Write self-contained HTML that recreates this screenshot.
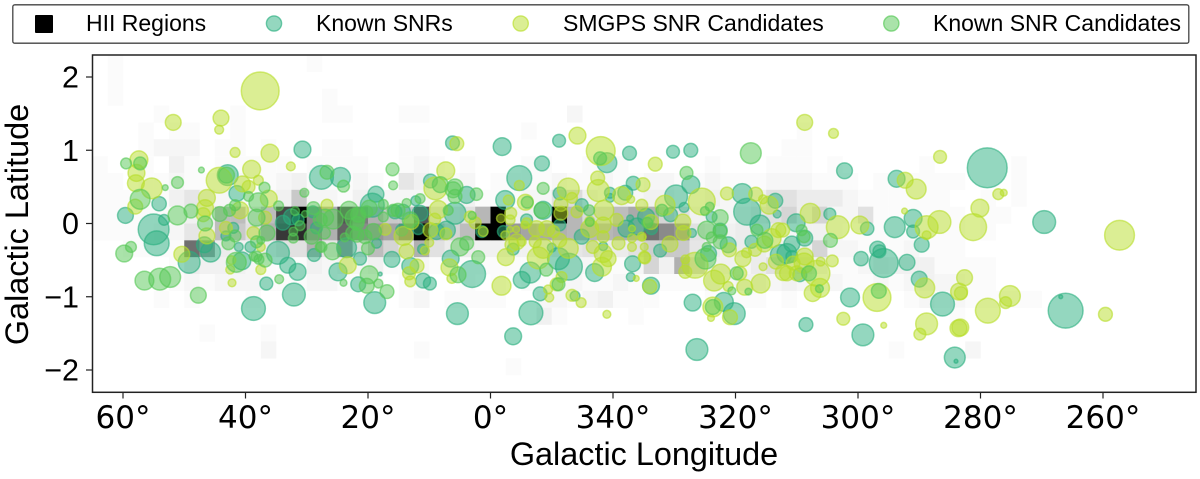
<!DOCTYPE html>
<html lang="en">
<head>
<meta charset="utf-8">
<title>Galactic distribution of SNRs and HII regions</title>
<style>
html,body{margin:0;padding:0;background:#fff;width:1200px;height:479px;overflow:hidden}
svg{display:block}
text{fill:#000}
.sans{font-family:"Liberation Sans",sans-serif}
.dejavu{font-family:"DejaVu Sans",sans-serif}
</style>
</head>
<body>
<svg id="chart" xmlns="http://www.w3.org/2000/svg" width="1200" height="479" viewBox="0 0 1200 479">
  <defs><clipPath id="plot-clip"><rect x="92.5" y="55" width="1103.5" height="337.3"/></clipPath></defs>
  <g>
    <rect x="12.8" y="4.8" width="1176" height="38.4" rx="2" fill="#fff" stroke="#444" stroke-width="1.3"/>
    <g>
      <rect x="35" y="15" width="18" height="18" rx="1" fill="#000"/>
      <text class="sans" x="86" y="31" font-size="23">HII Regions</text>
    </g>
    <g>
      <circle cx="274" cy="23.5" r="7.6" fill="#29af7f" fill-opacity=".5" stroke="#29af7f" stroke-opacity=".65" stroke-width="1.4"/>
      <text class="sans" x="316" y="31" font-size="23">Known SNRs</text>
    </g>
    <g>
      <circle cx="520.7" cy="23.5" r="7.6" fill="#b8de29" fill-opacity=".5" stroke="#b8de29" stroke-opacity=".65" stroke-width="1.4"/>
      <text class="sans" x="563" y="31" font-size="23">SMGPS SNR Candidates</text>
    </g>
    <g>
      <circle cx="891.3" cy="23.5" r="7.6" fill="#55c855" fill-opacity=".5" stroke="#55c855" stroke-opacity=".65" stroke-width="1.4"/>
      <text class="sans" x="933" y="31" font-size="23">Known SNR Candidates</text>
    </g>
  </g>
  <g id="heatmap" clip-path="url(#plot-clip)"></g>
  <g id="marks" clip-path="url(#plot-clip)"></g>
  <rect x="92.5" y="55" width="1103.5" height="337.3" fill="none" stroke="#222" stroke-width="1.5"/>
  <g id="axes"></g>
  <text class="sans" x="644" y="465" font-size="32.4" text-anchor="middle">Galactic Longitude</text>
  <text class="sans" transform="translate(28,224.5) rotate(-90)" font-size="32.4" text-anchor="middle">Galactic Latitude</text>
</svg>
<script>
// Longitudes are signed degrees (negative = 360 - |l|). Entries are [longitude, latitude, apparent size].
const xTickValues = [60, 40, 20, 0, -20, -40, -60, -80, -100];
const xTickLabels = ['60°', '40°', '20°', '0°', '340°', '320°', '300°', '280°', '260°'];
const yTickValues = [2, 1, 0, -1, -2];
const yTickLabels = ['2', '1', '0', '\u22121', '\u22122'];

// HII-region counts per cell: outer index = latitude bin from the top, inner index = longitude bin from the left.
const hiiLonStart = 65;
const hiiLonStep = 2.5;
const hiiLatStart = 2.3;
const hiiLatStep = 0.23;
const hiiCounts = [
[0,1,0,0,0,0,0,0,0,0,0,0,0,0,1],
[0,1],
[0,1,0,0,0,0,0,0,0,0,0,0,0,0,0,1],
[0,0,0,0,1,0,0,0,0,1,0,0,0,0,0,1,1,0,0,0,1,1,0,0,0,0,0,0,0,0,0,2],
[0,0,0,1,0,1,1,0,0,1,0,0,0,0,0,0,0,0,0,0,0,0,0,0,0,0,0,0,1,0,0,0,0,0,0,0,0,0,0,0,0,0,0,0,0,0,1],
[0,0,0,1,2,2,2,0,1,1,0,1,0,0,0,1,1,0,0,0,1,1,0,0,0,0,0,0,0,0,0,0,0,0,0,0,0,0,0,0,0,0,0,0,0,1,1],
[1,0,0,1,0,3,1,0,1,1,1,1,1,0,1,1,1,1,0,0,1,2,1,0,1,0,0,0,1,1,0,0,1,1,1,0,0,0,0,0,1,0,0,0,1,1,1,0,1,0,0,0,0,0,1,0,0,0,0,0,1],
[1,1,0,1,1,2,1,1,1,2,1,1,2,3,1,1,1,2,1,0,5,3,1,1,2,0,1,1,1,1,2,1,1,2,1,1,2,2,1,1,2,1,1,1,2,2,2,1,1,1,0,1,1,1,1,1,1,0,0,0,1],
[1,1,1,1,1,3,5,3,2,1,1,2,3,10,2,2,1,3,1,2,2,2,2,2,3,1,1,1,2,2,6,7,3,2,3,2,3,3,2,2,3,2,2,3,6,6,4,4,4,2,1,1,1,1,1,1,0,0,1,0,1],
[1,1,1,1,1,1,3,3,12,12,5,12,30,40,20,14,28,22,14,10,10,28,6,5,6,13,40,3,3,3,40,13,7,7,12,15,14,8,6,3,2,2,3,5,6,8,4,8,2,2,6,1,1,1,1,1,1,0,1,1],
[1,1,1,1,2,2,5,3,12,10,6,14,32,34,20,14,26,20,18,16,22,40,12,8,12,40,40,18,16,15,14,13,13,13,14,15,24,20,18,6,5,3,4,3,3,2,3,3,2,1,1,1,1,1,1,1,1,0,1],
[0,0,1,1,1,1,24,18,4,3,3,4,6,6,14,5,18,6,12,8,5,14,6,4,4,3,3,3,3,4,5,5,6,4,4,6,9,10,10,5,4,3,4,4,3,3,3,8,2,2,1,1,1,2,1,1,1],
[0,0,0,0,0,1,4,3,3,3,2,1,1,1,3,2,3,2,3,1,1,2,1,1,1,1,1,1,1,2,2,2,2,1,1,2,8,3,14,8,3,3,2,4,6,4,5,3,1,1,2,4,3,3,3,1,1,1,1],
[0,0,0,0,0,1,2,1,2,2,2,1,1,1,2,2,1,1,1,0,1,1,0,0,1,0,1,0,1,1,2,2,1,1,2,1,1,1,1,1,3,2,3,3,2,3,2,1,2,1,1,2,1,2,3,2,2,1,1],
[0,0,0,0,1,0,1,0,0,0,1,0,0,0,0,0,0,0,0,0,1,2,0,1,1,1,1,0,0,2,2,1,2,3,1,1,1,0,0,0,1,1,1,1,0,1,0,0,0,0,0,0,0,1,2,1,2,1,1,1,1,1],
[0,0,0,0,0,0,0,0,0,0,0,0,0,0,0,0,0,0,0,0,0,0,0,0,0,0,0,0,0,3,1,0,0,0,0,1,0,0,0,0,0,0,0,0,0,0,0,0,0,0,0,0,0,0,0,0,1],
[0,0,0,0,0,0,0,1,0,0,0,1],
[0,0,0,0,0,0,0,0,0,0,0,2,0,0,0,0,0,0,0,0,0,1,0,0,0,0,0,0,0,0,0,0,0,0,0,0,0,0,0,0,0,0,0,0,0,0,0,0,0,0,0,0,1,0,0,0,0,2],
[0,0,0,0,0,0,0,0,0,0,0,0,0,0,0,0,0,0,0,0,0,0,0,0,0,0,0,1],
[]
];
const hiiMaxCount = 40;

const knownSnrs = [
[59.6,.11,14],[54.1,.27,12.5],[55,-.08,29],[54.5,-.27,23],[53.3,.05,9],[49.2,-.53,20],[45.7,-.39,18],[46.7,-.29,14],[41.4,.41,14],[42.9,.66,19],
[30.7,1.01,15],[27.6,.63,22],[24.5,.63,18],[19.3,.25,22],[18.7,.4,14],[41.1,-.32,7],[39.2,-.32,9],[40.6,-.51,16],[34.7,-.4,21],[33.1,-.57,14],
[31.5,-.66,15],[36.6,-.82,11],[32.1,-.97,21],[38.7,-1.16,22],[24.9,-.66,16],[18.9,-1.08,20],[21.6,-.83,13],[16.1,-.49,14],[23.5,-.33,18],[21.3,-.48,11],
[18.6,-.27,8],[28.8,-.43,11],[32.5,.09,14],[33.9,.01,13],[31.4,.05,10],[29,.16,10],[28.4,-.06,10],[42,-.06,9],[43.2,-.17,8],[14.3,.16,13],
[15.6,.16,12],[12.2,.31,8],[9.8,.58,12],[3.9,.39,15],[5.8,.14,20],[8.8,-.11,14],[7.2,-.09,16],[11.8,-.07,10],[14.5,-.09,10],[13.1,-.58,15],
[11,-.78,13],[9.9,-.82,11],[3,-.69,25],[6.5,-.48,15],[18,-.69,2],[11.1,-.35,8],[1.4,-.11,10],[11.5,.14,14],[6.2,1.1,12],[-1.9,1.05,16],
[-11.2,1.13,11],[-8.4,.82,13],[-4.7,.62,23],[-2.4,.32,17],[-19,.83,18],[-22.7,.96,12],[-29.8,.98,11],[-32.7,1,12],[-23.3,.55,12],[-22,.42,13],
[-19.5,.42,9],[-19.5,.35,7],[-11.3,.41,11],[-14.9,.25,11],[-8.6,.18,16],[-5.9,.05,10],[-2.1,-.11,10],[-11.3,-.02,10],[-14.9,-.18,13],[-23.9,-.04,15],
[-22.2,-.07,15],[-22.8,.07,5],[-3.7,-.35,10],[-12.8,-.59,25],[-11.1,-.48,20],[-6.5,-.67,19],[-5.1,-.77,15],[-17,-.67,16],[-23.2,-.55,14],[-22.9,-.73,7],
[-10,-.33,7],[-18.4,-.31,7],[-25.4,.09,15],[5.4,-1.23,20],[-6.6,-1.22,22],[-3.7,-1.54,15],[-33.7,-1.72,20],[-33,-1.08,15],[-38.1,-1.07,17],[-39.8,-1.23,20],
[-26.2,-.85,15],[-8.1,-.96,12],[-13.8,-.99,8],[-27.7,-.37,11],[-30.3,.37,21],[-32.7,.53,16],[-31.6,.22,8],[-29.4,.12,12],[-26.3,-.07,10],[-32.9,-.13,7],
[-41.1,.41,18],[-41.9,.16,25],[-46.5,.31,13],[-46.8,.13,6],[-44,-.02,18],[-42.6,-.25,11],[-49.9,.01,16],[-47.4,-.43,19],[-49.2,-.28,14],[-49.2,-.45,10],
[-48.4,-.41,18],[-36.1,.09,9],[-37.5,-.09,12],[-35.6,-.41,14],[-38.8,-.29,14],[-51.3,-.2,14],[-50.5,-.7,12],[-55.4,.13,10],[-61.5,-.07,11.5],[-66,-.05,19],
[-69,.07,16],[-69,-.11,11],[-70.4,-.29,13],[-63.2,-.35,14],[-63.5,-.38,11],[-64.2,-.54,27],[-68,-.53,14],[-60.5,-.48,12.5],[-70,-.76,14],[-58.7,-1.01,17],
[-73.8,-1.1,22],[-90.4,.02,21],[-93.9,-1.19,33],[-60.8,-1.52,20],[-51.5,-1.38,12],[-75.8,-1.83,19],[-76,-1.88,2],[-93.1,-1,2],[-81.1,.76,38],[-57.8,.72,14],
[-66.3,.61,15]
];

const smgpsCandidates = [
[37.6,1.81,36],[51.8,1.38,14],[44,1.44,14],[44.3,1.28,7],[41.7,.97,8],[36,.96,16],[32.6,.78,7],[57.4,.87,16],[57.8,.69,15],[57.9,.55,15],
[55.3,.48,19],[58,.23,13],[44.3,.59,24],[39,.74,16],[40.5,.54,14],[39.5,.5,11],[37.9,.59,8],[36.2,.34,15],[46.3,.35,15],[46.6,.21,15],
[46.9,.12,12],[40.9,.18,15],[46.3,-.17,14],[43.2,-.06,11],[36.8,.08,11],[38.7,-.13,11],[37.5,-.32,7],[42.5,-.63,7],[42.3,-.5,7],[37.5,-.63,8],
[42.2,-.81,6],[23.3,-.57,15],[26.7,.25,10],[50.4,-.42,14],[17.2,-.08,10],[7.3,.72,16],[9,.48,21],[14.2,-.17,17],[12.9,.02,13],[9.8,-.09,13],
[8.5,.19,16],[9.1,.06,10],[7.3,-.14,10],[13.7,-.38,13],[10.7,-.37,7],[10,-.26,7],[3.3,.09,10],[2.5,.01,10],[12,-.58,12],[13.3,-.68,11],
[13.1,-.79,9],[6.7,-.6,15],[6.3,-.75,8],[1.2,-.11,8],[5.5,1.09,12],[-4.7,.52,8],[-14.2,1.2,15],[-18,.99,27],[-17.5,.62,12],[-17.6,.45,20],
[-12.7,.47,20],[-24.9,.53,12],[-26.9,.81,12],[-21.4,.38,16],[-22.9,.33,6],[-34.5,.3,25],[-38.6,.41,11],[-43.3,.4,12],[-44.5,.33,7],[-45.5,.25,16],
[-28.5,.25,18],[-24.7,.25,10],[-18.5,.18,18],[-5.7,.29,14],[-2.9,.32,8],[-13.3,.35,9],[-11.5,.26,12],[-3.3,.14,10],[-3.2,.05,8],[-1.7,.07,7],
[-5.6,-.02,6],[-3.2,-.08,4],[-4.2,-.08,5],[-2.4,-.16,7],[-4.3,-.25,14],[-5.1,-.25,7],[-5.9,.01,8],[-7.5,-.07,14],[-9.2,-.07,14],[-11.5,.14,12],
[-20.6,.05,11],[-16.2,-.07,16],[-14.1,.16,10],[-16.2,.03,8],[-18.4,-.02,14],[-18.4,-.18,10],[-24.7,-.18,7],[-23.1,-.2,7],[-23.1,-.07,5],[-23.1,-.32,7],
[-20.9,-.27,11],[-18.4,-.41,16],[-16.7,-.32,11],[-19.2,-.48,14],[-25.1,-.46,10],[-18.2,-.59,17],[-12.7,-.34,18],[-7.8,-.47,20],[-8.6,-.34,18],[-7.3,-.25,10],
[-3.5,-.29,12],[-2.5,-.46,15],[-11.3,-.23,12],[-10.3,-.11,10],[-1.8,-.85,17],[-11.6,-.73,9],[-26,-.86,12],[-23.8,-.75,4],[-10.8,-.83,11],[-9.4,-.9,7],
[-9.6,-1.01,7],[-13.3,-.98,10],[-14.8,-1.08,8],[-19,-1.24,6],[-36.3,-1.14,18],[-39.1,-1.28,13],[-36,-1.29,5],[-36.5,-.78,19],[-37.6,-.69,18],[-44.1,-.82,17],
[-41.5,-.87,14],[-31.4,.02,14],[-31.5,-.13,13],[-29.3,-.28,14],[-26.2,.02,13],[-25.1,-.32,6],[-25.2,-.47,10],[-24.8,-.19,5],[-47,-.09,13],[-45.9,-.2,17],
[-44.7,-.28,14],[-43.2,-.36,11],[-41.8,-.4,8],[-41.2,-.48,14],[-46.6,-.52,13],[-47.8,-.67,14],[-44.5,-.59,6],[-33.4,-.57,24],[-31.8,-.66,11],[-31.8,-.49,7],
[-40.7,-.68,12],[-38.8,-.86,8],[-39,-.36,12],[-49.4,-.54,12],[-50,-.68,13],[-51.3,1.38,14],[-56,1.23,8],[-73.4,.91,11],[-67.7,.59,14],[-69.5,.47,18],
[-82.9,.4,9],[-83.8,.42,5],[-79.9,.21,16],[-78.8,-.05,25],[-73.3,.02,21],[-71.2,-.05,21],[-71.2,-.16,7],[-67.6,.17,4],[-60.3,-.02,16],[-56.7,-.05,21],
[-52.2,.14,18],[-47.7,-.09,12],[-55.8,-.51,10],[-63.1,-1.01,26],[-57.6,-1.3,11],[-64.2,-1.39,4],[-71.2,-1.37,20],[-70.1,-1.51,10],[-70.9,-.88,18],[-77.4,-.74,14],
[-76.5,-.93,15],[-76.8,-.95,11],[-76.4,-1.43,15],[-76.7,-1.42,15],[-81.2,-1.19,23],[-84.8,-.99,19],[-84.1,-1.08,10],[-100.4,-1.24,12],[-102.7,-.16,28],[-53.3,-.68,24],
[-51.3,-.45,15],[-53.9,-.52,7],[-52.6,-.95,15],[-53.8,-.88,17],[-51.2,-.54,18],[-48.4,-.68,13]
];

const knownCandidates = [
[59.5,.82,9],[57.2,.82,11],[57.2,.33,18],[51.1,.56,10],[53.1,.49,4],[47.2,.73,4],[51.1,.11,17],[48.9,.17,12],[43.1,.66,14],[36.9,.49,9],
[37.9,.29,17],[46.6,0,13],[44.2,.13,13],[42.6,.18,10],[41.7,.25,9],[39.5,.37,8],[30.4,.42,7],[34.6,.24,8],[26.7,.7,12],[16,.74,11],
[15.9,.52,7],[24,.51,10],[59.8,-.41,15],[58.7,-.32,9],[56.5,-.78,17],[54,-.76,20],[52.3,-.73,19],[47.7,-.98,14],[36.5,-.13,14],[38.2,.08,15],
[42.8,-.27,11],[41.7,-.17,10],[41.5,-.53,18],[38.2,-.45,9],[36.8,-.5,12],[34.5,-.76,7],[38.2,-.25,10],[25.8,-.38,15],[27.8,-.32,8],[24,-.81,5],
[19.8,-.7,16],[20.2,-.85,13],[18.3,-.82,7],[16.9,-.93,12],[20,-.34,11],[29.2,-.18,13],[32.2,-.2,8],[32.2,-.11,7],[25.7,.06,18],[27.8,.05,12],
[28.9,.21,11],[22.1,.07,18],[20.2,.16,10],[22.5,-.13,12],[15.9,.18,10],[17.5,.09,8],[31.9,.17,7],[30.3,.13,5],[31.1,-.03,8],[27.1,-.13,10],
[27,.08,15],[27.6,-.32,9],[37.5,-.23,6],[37.8,-.49,8],[38.7,-.45,7],[5.8,.5,14],[8.2,.53,14],[2.3,.4,10.5],[11.5,.34,8],[17.5,.26,8],
[19.8,.21,14],[23.1,.18,16],[21.6,.12,13],[21.8,0,12],[15.1,.18,12],[13.1,.05,14],[13.7,.28,7],[19.1,-.11,14],[20.5,-.18,12],[21.8,-.16,12],
[23.8,-.19,7],[5,-.32,16],[3.9,-.27,12],[2,-.46,11],[5.3,-.7,14],[5.8,.37,12],[6.9,.18,8],[3,.11,6],[-8.6,.48,10],[-6,.29,10],
[-16.1,.18,9],[-8.4,.18,14],[-9.1,-.63,11],[-16.2,.02,7],[-11.1,-.83,11],[-42.5,.96,19],[-32,.69,11],[-17.9,.89,11],[6.1,.46,14],[-35.8,.23,7],
[-35,.17,7],[-37.5,.08,14],[-35.3,-.09,16],[-36.1,-.19,9],[-37.5,-.11,12],[-37.5,-.25,12],[-35.1,-.48,19],[-35.3,-.32,7],[-40.2,-.68,11],[-43.5,-.09,10],
[-44.8,-.23,14],[-28,.18,10],[-25.6,.01,9],[-42.1,-.93,5],[-39.4,-.92,6],[-36.3,-1.14,13],[-55.5,-.23,12],[-63.4,-.92,13],[-53.7,-.89,6],[-52,-.68,13],
[-50.8,-.09,9],[-51.2,-.18,10]
];

const svgNS = 'http://www.w3.org/2000/svg';
function xScale(lon) { return 490.5 - 6.125 * lon; }
function yScale(lat) { return 223.5 - 73.25 * lat; }
function sizeScale(size) { return size / 2 + 0.9; }
function countToGray(count) {
  const frac = Math.min(count, hiiMaxCount) / hiiMaxCount;
  return Math.round(255 * (1 - Math.pow(frac, 1.12)));
}

const heatLayer = document.getElementById('heatmap');
hiiCounts.forEach(function (row, r) {
  row.forEach(function (count, c) {
    if (!count) return;
    const lonLeft = hiiLonStart - hiiLonStep * c;
    const latTop = hiiLatStart - hiiLatStep * r;
    const cell = document.createElementNS(svgNS, 'rect');
    
    
    cell.setAttribute('x', xScale(lonLeft));
    cell.setAttribute('y', yScale(latTop));
    cell.setAttribute('width', xScale(lonLeft - hiiLonStep) - xScale(lonLeft) + 0.2);
    cell.setAttribute('height', yScale(latTop - hiiLatStep) - yScale(latTop) + 0.2);
    const g = countToGray(count);
    cell.setAttribute('fill', 'rgb(' + g + ',' + g + ',' + g + ')');
    heatLayer.appendChild(cell);
  });
});

const markLayer = document.getElementById('marks');
function drawSeries(points, color, name) {
  points.forEach(function (p) {
    const dot = document.createElementNS(svgNS, 'circle');
    
    
    dot.setAttribute('cx', xScale(p[0]));
    dot.setAttribute('cy', yScale(p[1]));
    dot.setAttribute('r', sizeScale(p[2]));
    dot.setAttribute('fill', color);
    dot.setAttribute('fill-opacity', '0.5');
    dot.setAttribute('stroke', color);
    dot.setAttribute('stroke-opacity', '0.6');
    dot.setAttribute('stroke-width', '1.5');
    markLayer.appendChild(dot);
  });
}
drawSeries(knownSnrs, '#29af7f', 'known-snr-point');
drawSeries(smgpsCandidates, '#b8de29', 'smgps-candidate-point');
drawSeries(knownCandidates, '#55c855', 'known-candidate-point');

const axesLayer = document.getElementById('axes');
xTickValues.forEach(function (v, i) {
  const x = xScale(v);
  const tick = document.createElementNS(svgNS, 'line');
  
  
  tick.setAttribute('x1', x);
  tick.setAttribute('x2', x);
  tick.setAttribute('y1', 392.3);
  tick.setAttribute('y2', 398.5);
  tick.setAttribute('stroke', '#222');
  tick.setAttribute('stroke-width', '1.2');
  axesLayer.appendChild(tick);
  const label = document.createElementNS(svgNS, 'text');
  
  
  label.setAttribute('class', 'dejavu');
  label.setAttribute('x', x);
  label.setAttribute('y', 428);
  label.setAttribute('font-size', '31');
  label.setAttribute('text-anchor', 'middle');
  label.textContent = xTickLabels[i];
  axesLayer.appendChild(label);
});
yTickValues.forEach(function (v, i) {
  const y = yScale(v);
  const tick = document.createElementNS(svgNS, 'line');
  
  
  tick.setAttribute('x1', 86);
  tick.setAttribute('x2', 92.5);
  tick.setAttribute('y1', y);
  tick.setAttribute('y2', y);
  tick.setAttribute('stroke', '#222');
  tick.setAttribute('stroke-width', '1.2');
  axesLayer.appendChild(tick);
  const label = document.createElementNS(svgNS, 'text');
  
  
  label.setAttribute('class', 'sans');
  label.setAttribute('x', 79);
  label.setAttribute('y', y + 10.5);
  label.setAttribute('font-size', '30.5');
  label.setAttribute('text-anchor', 'end');
  label.textContent = yTickLabels[i];
  axesLayer.appendChild(label);
});
</script>
</body>
</html>
